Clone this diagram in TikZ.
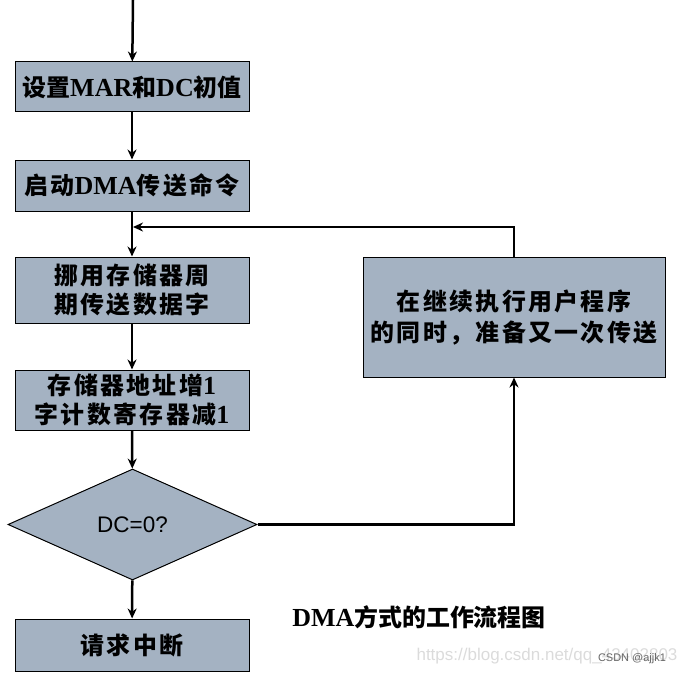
\documentclass[tikz,border=0pt]{standalone}
\usepackage{fontspec}
\setmainfont{Liberation Serif}
\setsansfont{Liberation Sans}
\newfontfamily\cjf[Scale=0.92,LetterSpace=10]{Noto Sans CJK SC}
\newfontfamily\cjt[Scale=0.92]{Noto Sans CJK SC}
\usetikzlibrary{shapes.geometric,arrows.meta}
\definecolor{boxfill}{RGB}{164,178,194}
\begin{document}
\begin{tikzpicture}[x=1pt,y=-1pt,
  box/.style={draw=black, line width=1pt, fill=boxfill, rectangle, inner sep=0pt, align=center,
    font=\bfseries\fontsize{26}{29}\selectfont},
  dec/.style={draw=black, line width=1pt, fill=boxfill, diamond, inner sep=0pt,
    minimum width=249pt, minimum height=111pt, font=\sffamily\fontsize{22.5}{26}\selectfont},
  arr/.style={line width=2.5pt, -{Stealth[length=10pt,width=9pt]}},
  ln/.style={line width=2.5pt}]
\useasboundingbox (0,0) rectangle (679,674);
\node[box, minimum width=234pt, minimum height=50pt, font=\bfseries\fontsize{26}{28}\selectfont] (b1) at (132,87)
  {{\cjt 设置}MAR{\cjt 和}DC{\cjt 初值}};
\node[box, minimum width=234pt, minimum height=51pt] (b2) at (132,185.5)
  {{\cjf 启动}DMA{\cjf 传送命令}};
\node[box, minimum width=234pt, minimum height=66pt] (b3) at (132,290)
  {{\cjf 挪用存储器周}\\{\cjf 期传送数据字}};
\node[box, minimum width=234pt, minimum height=60pt] (b4) at (132,400)
  {{\cjf 存储器地址增}1\\{\cjf 字计数寄存器减}1};
\node[dec] (d) at (132.5,524.5) {DC=0?};
\node[box, minimum width=234pt, minimum height=52pt] (b5) at (132,645)
  {{\cjf 请求中断}};
\node[box, minimum width=302pt, minimum height=120pt, font=\bfseries\fontsize{26}{31}\selectfont] (r) at (514,317)
  {{\cjf 在继续执行用户程序}\\{\cjf 的同时，准备又一次传送}};
\node[font=\bfseries\fontsize{26}{28}\selectfont] (cap) at (419,617) {DMA{\cjt 方式的工作流程图}};
\node[font=\sffamily\fontsize{17}{20}\selectfont, text=black!14] (wm) at (547,656) {https://blog.csdn.net/qq\_43402803};
\node[font=\sffamily\fontsize{11}{13}\selectfont, text=black!60] (wm2) at (632,659) {CSDN @ajjk1};
\coordinate (top) at (133,0);
\coordinate (j) at (133,227);
\draw[arr] (top) -- (b1);
\draw[arr] (b1) -- (b2);
\draw[arr] (b2) -- (b3);
\draw[arr] (b3) -- (b4);
\draw[arr] (b4) -- (d);
\draw[arr] (d) -- (b5);
\draw[arr] (r.north) |- (j);
\draw[arr] (d.east) -| (r.south);
\end{tikzpicture}
\end{document}
